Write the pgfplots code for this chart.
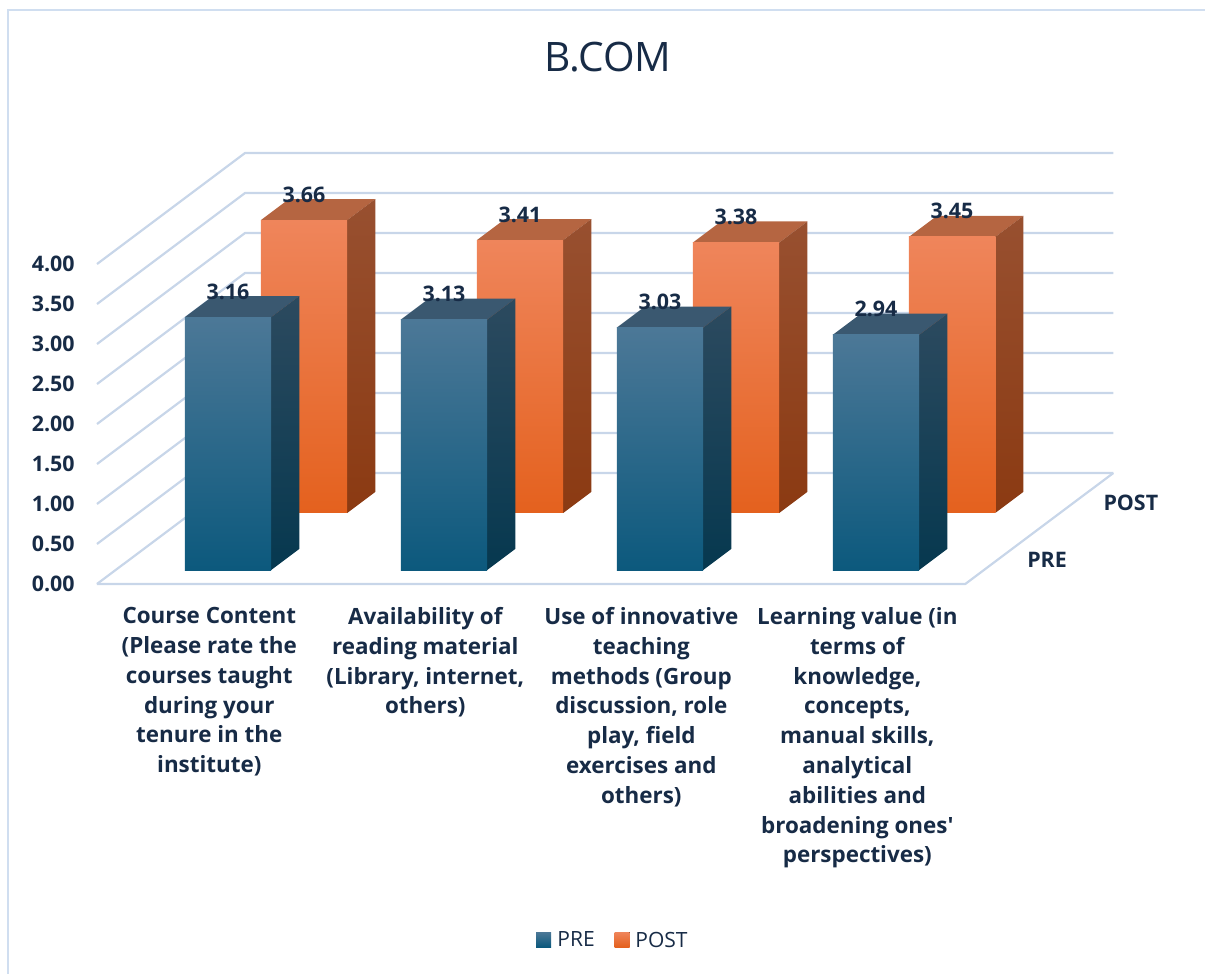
\documentclass[border=0pt]{standalone}
\usepackage{fontspec}
\setmainfont{Open Sans}[Ligatures=TeXOff]
\usepackage{pgfplots}
\pgfplotsset{compat=1.18}
\definecolor{txt}{RGB}{23,43,70}
\definecolor{gridc}{RGB}{200,214,233}
\definecolor{framec}{RGB}{208,222,240}
\definecolor{preft}{RGB}{76,120,151}
\definecolor{prefb}{RGB}{12,89,125}
\definecolor{prest}{RGB}{44,74,95}
\definecolor{presb}{RGB}{6,56,79}
\definecolor{pretop}{RGB}{58,88,112}
\definecolor{postft}{RGB}{239,133,91}
\definecolor{postfb}{RGB}{228,97,30}
\definecolor{postst}{RGB}{152,80,48}
\definecolor{postsb}{RGB}{139,58,18}
\definecolor{posttop}{RGB}{181,101,65}
\tikzset{
  lbl/.style={font=\fontsize{10.7}{12}\selectfont\bfseries, text=txt, inner sep=0pt},
  gl/.style={draw=gridc, line width=1.1pt, line join=round},
  catl/.style={font=\fontsize{11.2}{14.9}\selectfont\bfseries, text=txt, inner sep=0pt, align=center, anchor=north, yshift=-11.5pt},
}

% one 3D bar: #1 category x, #2 front depth, #3 value, #4 colour set
\newcommand\dbar[4]{%
 \pgfmathsetmacro\xa{#1-0.2}\pgfmathsetmacro\xb{#1+0.2}%
 \pgfmathsetmacro\ya{#2}\pgfmathsetmacro\yb{#2+0.19}%
 \addplot3[draw=none, fill=#4top] coordinates {(\xa,\ya,#3) (\xb,\ya,#3) (\xb,\yb,#3) (\xa,\yb,#3) (\xa,\ya,#3)};
 \addplot3[draw=none, top color=#4st, bottom color=#4sb] coordinates {(\xb,\ya,0) (\xb,\yb,0) (\xb,\yb,#3) (\xb,\ya,#3) (\xb,\ya,0)};
 \addplot3[draw=none, top color=#4ft, bottom color=#4fb] coordinates {(\xa,\ya,0) (\xb,\ya,0) (\xb,\ya,#3) (\xa,\ya,#3) (\xa,\ya,0)};
 \node[lbl, anchor=base, yshift=9pt] at (axis cs:#1,#2,#3) {#3};
}

\begin{document}
\begin{tikzpicture}
\begin{axis}[
  x={(108pt,0pt)}, y={(74pt,55.5pt)}, z={(0pt,40pt)},
  xmin=0.48, xmax=4.5, ymin=0, ymax=1, zmin=0, zmax=4,
  hide axis, clip=false,
  every axis plot/.append style={mark=none},
]
% floor and walls
\addplot3[gl] coordinates {(0.48,0,0) (4.5,0,0) (4.5,1,0)};
\addplot3[gl] coordinates {(0.48,0,0) (0.48,1,0) (4.5,1,0)};
\addplot3[gl] coordinates {(0.48,0,0.5) (0.48,1,0.5) (4.5,1,0.5)};
\addplot3[gl] coordinates {(0.48,0,1) (0.48,1,1) (4.5,1,1)};
\addplot3[gl] coordinates {(0.48,0,1.5) (0.48,1,1.5) (4.5,1,1.5)};
\addplot3[gl] coordinates {(0.48,0,2) (0.48,1,2) (4.5,1,2)};
\addplot3[gl] coordinates {(0.48,0,2.5) (0.48,1,2.5) (4.5,1,2.5)};
\addplot3[gl] coordinates {(0.48,0,3) (0.48,1,3) (4.5,1,3)};
\addplot3[gl] coordinates {(0.48,0,3.5) (0.48,1,3.5) (4.5,1,3.5)};
\addplot3[gl] coordinates {(0.48,0,4) (0.48,1,4) (4.5,1,4)};
% POST (back row)
\dbar{1}{0.64}{3.66}{post}
\dbar{2}{0.64}{3.41}{post}
\dbar{3}{0.64}{3.38}{post}
\dbar{4}{0.64}{3.45}{post}
% PRE (front row)
\dbar{1}{0.126}{3.16}{pre}
\dbar{2}{0.126}{3.13}{pre}
\dbar{3}{0.126}{3.03}{pre}
\dbar{4}{0.126}{2.94}{pre}
% value axis labels
\node[lbl, anchor=east, xshift=-11pt] at (axis cs:0.48,0,0) {0.00};
\node[lbl, anchor=east, xshift=-11pt] at (axis cs:0.48,0,0.5) {0.50};
\node[lbl, anchor=east, xshift=-11pt] at (axis cs:0.48,0,1) {1.00};
\node[lbl, anchor=east, xshift=-11pt] at (axis cs:0.48,0,1.5) {1.50};
\node[lbl, anchor=east, xshift=-11pt] at (axis cs:0.48,0,2) {2.00};
\node[lbl, anchor=east, xshift=-11pt] at (axis cs:0.48,0,2.5) {2.50};
\node[lbl, anchor=east, xshift=-11pt] at (axis cs:0.48,0,3) {3.00};
\node[lbl, anchor=east, xshift=-11pt] at (axis cs:0.48,0,3.5) {3.50};
\node[lbl, anchor=east, xshift=-11pt] at (axis cs:0.48,0,4) {4.00};
% depth labels
\node[lbl, anchor=west, xshift=14.5pt] at (axis cs:4.5,0.22,0) {PRE};
\node[lbl, anchor=west, xshift=14.5pt] at (axis cs:4.5,0.735,0) {POST};
% category labels
\node[catl] at (axis cs:1,0,0) {Course Content\\(Please rate the\\courses taught\\during your\\tenure in the\\institute)};
\node[catl] at (axis cs:2,0,0) {Availability of\\reading material\\(Library, internet,\\others)};
\node[catl] at (axis cs:3,0,0) {Use of innovative\\teaching\\methods (Group\\discussion, role\\play, field\\exercises and\\others)};
\node[catl] at (axis cs:4,0,0) {Learning value (in\\terms of\\knowledge,\\concepts,\\manual skills,\\analytical\\abilities and\\broadening ones'\\perspectives)};
\coordinate (O) at (axis cs:0.48,0,0);
\end{axis}
% title
\node[font=\fontsize{20.3}{24}\selectfont, text=txt, inner sep=0pt] at ([shift={(255.5pt,263.5pt)}]O) {B.COM};
% legend
\fill[top color=preft, bottom color=prefb] ([shift={(219.5pt,-181.5pt)}]O) rectangle ++(7.5pt,7.5pt);
\node[font=\fontsize{10.5}{12}\selectfont, text=txt, anchor=west, inner sep=0pt] at ([shift={(230pt,-177.75pt)}]O) {PRE};
\fill[top color=postft, bottom color=postfb] ([shift={(258.75pt,-181.5pt)}]O) rectangle ++(7.5pt,7.5pt);
\node[font=\fontsize{10.5}{12}\selectfont, text=txt, anchor=west, inner sep=0pt] at ([shift={(269pt,-177.75pt)}]O) {POST};
% frame
\draw[framec, line width=1pt] ([shift={(-44.5pt,-200pt)}]O) -- ++(0,487pt) -- ++(620pt,0);
\pgfresetboundingbox
\path[use as bounding box] ([shift={(-48.5pt,-195pt)}]O) rectangle ++(602.5pt,487pt);
\end{tikzpicture}
\end{document}
